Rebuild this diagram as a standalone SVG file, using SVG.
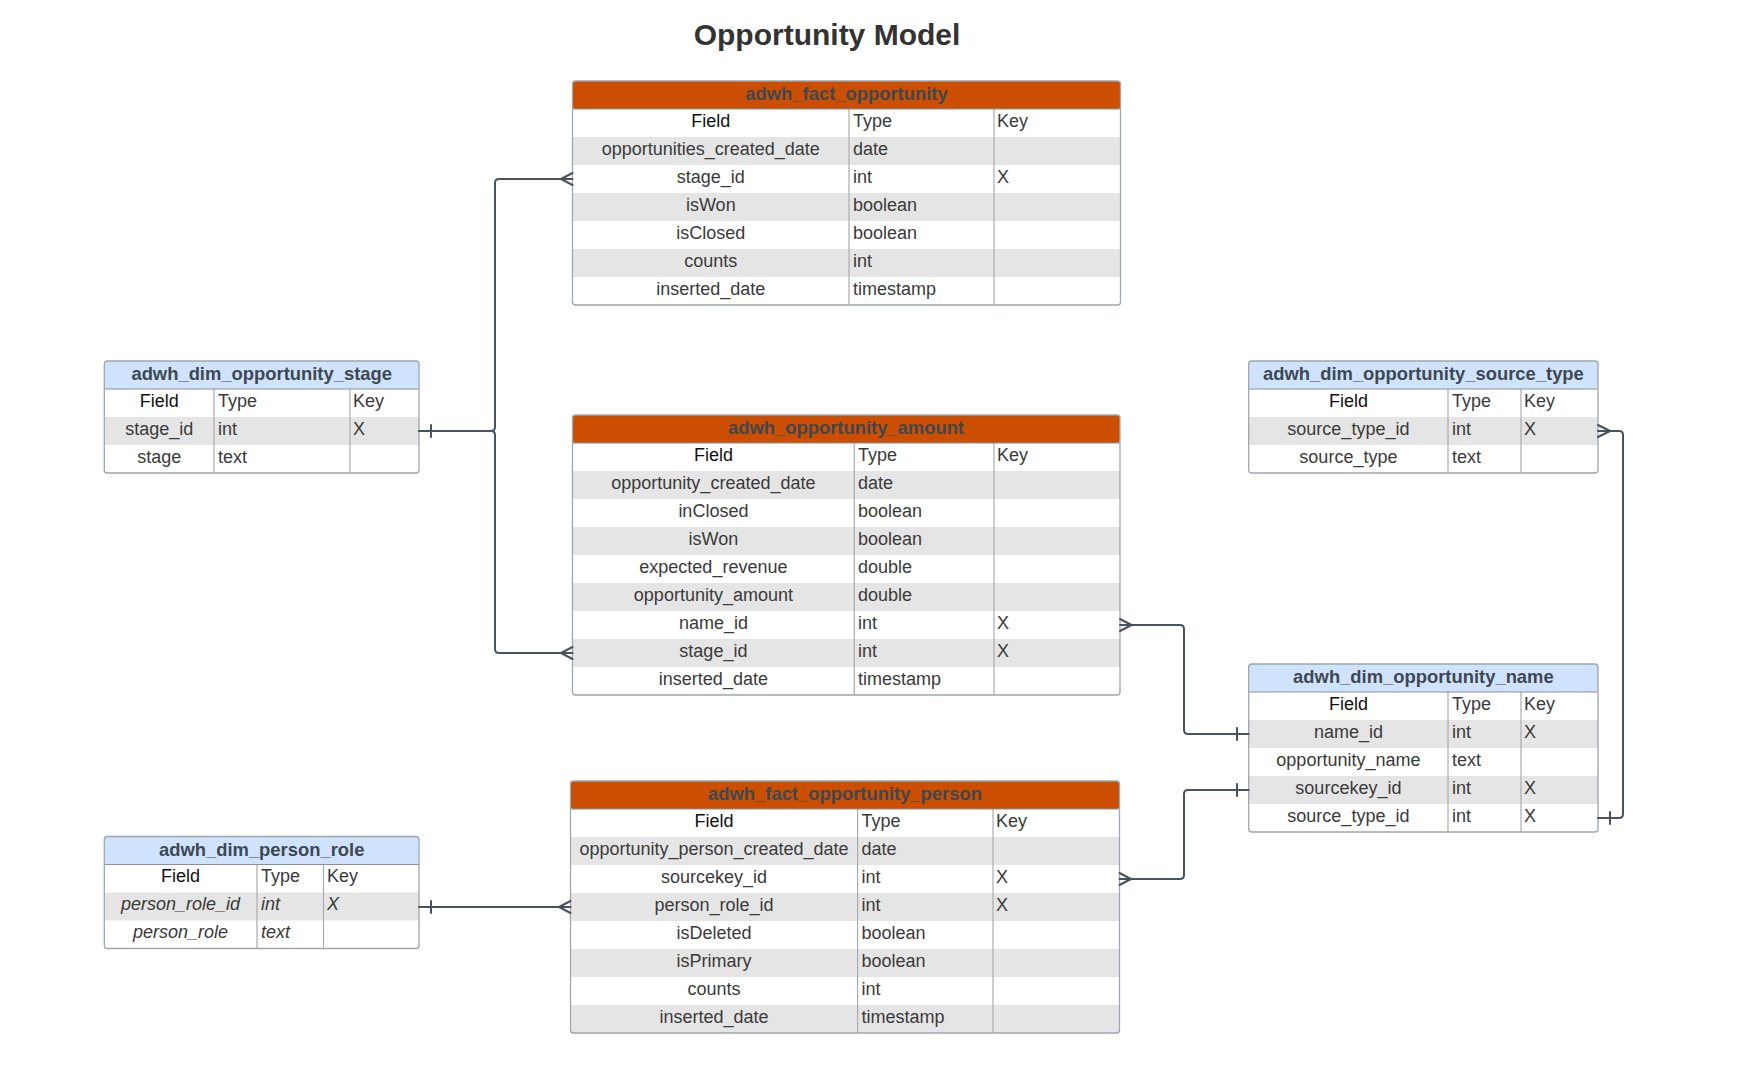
<svg xmlns="http://www.w3.org/2000/svg" width="1737" height="1068" viewBox="0 0 1737 1068">
<style>
.bg{fill:#ffffff}
.ho{fill:#CC4E00}
.hb{fill:#CFE3FF}
.alt{fill:#E5E5E5}
.frame{fill:none;stroke:#A0A6AD;stroke-width:1.3}
.dv{stroke:#A8ACB0;stroke-width:1.2}
.hl{stroke:#8A9096;stroke-width:1}
.title{font-family:"Liberation Sans",Arial,sans-serif;font-weight:bold;font-size:30px;fill:#333333;text-anchor:middle}
.ht{font-family:"Liberation Sans",Arial,sans-serif;font-weight:bold;font-size:18.4px;fill:#3E4852;text-anchor:middle}
.fh{font-family:"Liberation Sans",Arial,sans-serif;font-size:18px;fill:#111111}
.t{font-family:"Liberation Sans",Arial,sans-serif;font-size:18px;fill:#3A3A3A}
.c{text-anchor:middle}
.it{font-style:italic}
.conn{fill:none;stroke:#4A525E;stroke-width:2;stroke-linejoin:round;stroke-linecap:round}
</style>
<rect class="bg" x="0" y="0" width="1737" height="1068"/>
<text class="title" x="827" y="44.7">Opportunity Model</text>

<g id="adwh_fact_opportunity">
<rect class="bg" x="572.5" y="81" width="548" height="224" rx="3"/>
<rect class="ho" x="572.5" y="81" width="548" height="28" rx="3"/>
<rect class="alt" x="572.5" y="137" width="548" height="28"/>
<rect class="alt" x="572.5" y="193" width="548" height="28"/>
<rect class="alt" x="572.5" y="249" width="548" height="28"/>
<line class="dv" x1="849" y1="109" x2="849" y2="305"/>
<line class="dv" x1="994" y1="109" x2="994" y2="305"/>
<line class="hl" x1="572.5" y1="109" x2="1120.5" y2="109"/>
<rect class="frame" x="572.5" y="81" width="548" height="224" rx="3"/>
<text class="ht" x="846.5" y="99.5">adwh_fact_opportunity</text>
<text class="fh c" x="710.8" y="126.5">Field</text><text class="t" x="853" y="126.5">Type</text><text class="t" x="997" y="126.5">Key</text>
<text class="t c" x="710.8" y="154.5">opportunities_created_date</text><text class="t" x="853" y="154.5">date</text>
<text class="t c" x="710.8" y="182.5">stage_id</text><text class="t" x="853" y="182.5">int</text><text class="t" x="997" y="182.5">X</text>
<text class="t c" x="710.8" y="210.5">isWon</text><text class="t" x="853" y="210.5">boolean</text>
<text class="t c" x="710.8" y="238.5">isClosed</text><text class="t" x="853" y="238.5">boolean</text>
<text class="t c" x="710.8" y="266.5">counts</text><text class="t" x="853" y="266.5">int</text>
<text class="t c" x="710.8" y="294.5">inserted_date</text><text class="t" x="853" y="294.5">timestamp</text>
</g>

<g id="adwh_opportunity_amount">
<rect class="bg" x="572.5" y="415" width="547.5" height="280" rx="3"/>
<rect class="ho" x="572.5" y="415" width="547.5" height="28" rx="3"/>
<rect class="alt" x="572.5" y="471" width="547.5" height="28"/>
<rect class="alt" x="572.5" y="527" width="547.5" height="28"/>
<rect class="alt" x="572.5" y="583" width="547.5" height="28"/>
<rect class="alt" x="572.5" y="639" width="547.5" height="28"/>
<line class="dv" x1="854.3" y1="443" x2="854.3" y2="695"/>
<line class="dv" x1="994" y1="443" x2="994" y2="695"/>
<line class="hl" x1="572.5" y1="443" x2="1120" y2="443"/>
<rect class="frame" x="572.5" y="415" width="547.5" height="280" rx="3"/>
<text class="ht" x="846" y="433.5">adwh_opportunity_amount</text>
<text class="fh c" x="713.4" y="460.5">Field</text><text class="t" x="858" y="460.5">Type</text><text class="t" x="997" y="460.5">Key</text>
<text class="t c" x="713.4" y="488.5">opportunity_created_date</text><text class="t" x="858" y="488.5">date</text>
<text class="t c" x="713.4" y="516.5">inClosed</text><text class="t" x="858" y="516.5">boolean</text>
<text class="t c" x="713.4" y="544.5">isWon</text><text class="t" x="858" y="544.5">boolean</text>
<text class="t c" x="713.4" y="572.5">expected_revenue</text><text class="t" x="858" y="572.5">double</text>
<text class="t c" x="713.4" y="600.5">opportunity_amount</text><text class="t" x="858" y="600.5">double</text>
<text class="t c" x="713.4" y="628.5">name_id</text><text class="t" x="858" y="628.5">int</text><text class="t" x="997" y="628.5">X</text>
<text class="t c" x="713.4" y="656.5">stage_id</text><text class="t" x="858" y="656.5">int</text><text class="t" x="997" y="656.5">X</text>
<text class="t c" x="713.4" y="684.5">inserted_date</text><text class="t" x="858" y="684.5">timestamp</text>
</g>

<g id="adwh_fact_opportunity_person">
<rect class="bg" x="570.5" y="781" width="549" height="252" rx="3"/>
<rect class="ho" x="570.5" y="781" width="549" height="28" rx="3"/>
<rect class="alt" x="570.5" y="837" width="549" height="28"/>
<rect class="alt" x="570.5" y="893" width="549" height="28"/>
<rect class="alt" x="570.5" y="949" width="549" height="28"/>
<rect class="alt" x="570.5" y="1005" width="549" height="28"/>
<line class="dv" x1="857.6" y1="809" x2="857.6" y2="1033"/>
<line class="dv" x1="993" y1="809" x2="993" y2="1033"/>
<line class="hl" x1="570.5" y1="809" x2="1119.5" y2="809"/>
<rect class="frame" x="570.5" y="781" width="549" height="252" rx="3"/>
<text class="ht" x="845" y="799.5">adwh_fact_opportunity_person</text>
<text class="fh c" x="714" y="826.5">Field</text><text class="t" x="861.5" y="826.5">Type</text><text class="t" x="996" y="826.5">Key</text>
<text class="t c" x="714" y="854.5">opportunity_person_created_date</text><text class="t" x="861.5" y="854.5">date</text>
<text class="t c" x="714" y="882.5">sourcekey_id</text><text class="t" x="861.5" y="882.5">int</text><text class="t" x="996" y="882.5">X</text>
<text class="t c" x="714" y="910.5">person_role_id</text><text class="t" x="861.5" y="910.5">int</text><text class="t" x="996" y="910.5">X</text>
<text class="t c" x="714" y="938.5">isDeleted</text><text class="t" x="861.5" y="938.5">boolean</text>
<text class="t c" x="714" y="966.5">isPrimary</text><text class="t" x="861.5" y="966.5">boolean</text>
<text class="t c" x="714" y="994.5">counts</text><text class="t" x="861.5" y="994.5">int</text>
<text class="t c" x="714" y="1022.5">inserted_date</text><text class="t" x="861.5" y="1022.5">timestamp</text>
</g>

<g id="adwh_dim_opportunity_stage">
<rect class="bg" x="104.3" y="361" width="314.7" height="112" rx="3"/>
<rect class="hb" x="104.3" y="361" width="314.7" height="28" rx="3"/>
<rect class="alt" x="104.3" y="417" width="314.7" height="28"/>
<line class="dv" x1="214" y1="389" x2="214" y2="473"/>
<line class="dv" x1="350" y1="389" x2="350" y2="473"/>
<line class="hl" x1="104.3" y1="389" x2="419" y2="389"/>
<rect class="frame" x="104.3" y="361" width="314.7" height="112" rx="3"/>
<text class="ht" x="261.7" y="379.5">adwh_dim_opportunity_stage</text>
<text class="fh c" x="159.2" y="406.5">Field</text><text class="t" x="218" y="406.5">Type</text><text class="t" x="353" y="406.5">Key</text>
<text class="t c" x="159.2" y="434.5">stage_id</text><text class="t" x="218" y="434.5">int</text><text class="t" x="353" y="434.5">X</text>
<text class="t c" x="159.2" y="462.5">stage</text><text class="t" x="218" y="462.5">text</text>
</g>

<g id="adwh_dim_person_role">
<rect class="bg" x="104.3" y="836.5" width="314.7" height="112" rx="3"/>
<rect class="hb" x="104.3" y="836.5" width="314.7" height="28" rx="3"/>
<rect class="alt" x="104.3" y="892.5" width="314.7" height="28"/>
<line class="dv" x1="257" y1="864.5" x2="257" y2="948.5"/>
<line class="dv" x1="323.5" y1="864.5" x2="323.5" y2="948.5"/>
<line class="hl" x1="104.3" y1="864.5" x2="419" y2="864.5"/>
<rect class="frame" x="104.3" y="836.5" width="314.7" height="112" rx="3"/>
<text class="ht" x="261.7" y="856">adwh_dim_person_role</text>
<text class="fh c" x="180.6" y="882">Field</text><text class="t" x="261" y="882">Type</text><text class="t" x="327" y="882">Key</text>
<text class="t c it" x="180.6" y="910">person_role_id</text><text class="t it" x="261" y="910">int</text><text class="t it" x="327" y="910">X</text>
<text class="t c it" x="180.6" y="938">person_role</text><text class="t it" x="261" y="938">text</text>
</g>

<g id="adwh_dim_opportunity_source_type">
<rect class="bg" x="1248.7" y="361" width="349.3" height="112" rx="3"/>
<rect class="hb" x="1248.7" y="361" width="349.3" height="28" rx="3"/>
<rect class="alt" x="1248.7" y="417" width="349.3" height="28"/>
<line class="dv" x1="1448" y1="389" x2="1448" y2="473"/>
<line class="dv" x1="1521" y1="389" x2="1521" y2="473"/>
<line class="hl" x1="1248.7" y1="389" x2="1598" y2="389"/>
<rect class="frame" x="1248.7" y="361" width="349.3" height="112" rx="3"/>
<text class="ht" x="1423.4" y="379.5">adwh_dim_opportunity_source_type</text>
<text class="fh c" x="1348.4" y="406.5">Field</text><text class="t" x="1452" y="406.5">Type</text><text class="t" x="1524" y="406.5">Key</text>
<text class="t c" x="1348.4" y="434.5">source_type_id</text><text class="t" x="1452" y="434.5">int</text><text class="t" x="1524" y="434.5">X</text>
<text class="t c" x="1348.4" y="462.5">source_type</text><text class="t" x="1452" y="462.5">text</text>
</g>

<g id="adwh_dim_opportunity_name">
<rect class="bg" x="1248.7" y="664" width="349.3" height="168" rx="3"/>
<rect class="hb" x="1248.7" y="664" width="349.3" height="28" rx="3"/>
<rect class="alt" x="1248.7" y="720" width="349.3" height="28"/>
<rect class="alt" x="1248.7" y="776" width="349.3" height="28"/>
<line class="dv" x1="1448" y1="692" x2="1448" y2="832"/>
<line class="dv" x1="1521" y1="692" x2="1521" y2="832"/>
<line class="hl" x1="1248.7" y1="692" x2="1598" y2="692"/>
<rect class="frame" x="1248.7" y="664" width="349.3" height="168" rx="3"/>
<text class="ht" x="1423.4" y="682.5">adwh_dim_opportunity_name</text>
<text class="fh c" x="1348.4" y="709.5">Field</text><text class="t" x="1452" y="709.5">Type</text><text class="t" x="1524" y="709.5">Key</text>
<text class="t c" x="1348.4" y="737.5">name_id</text><text class="t" x="1452" y="737.5">int</text><text class="t" x="1524" y="737.5">X</text>
<text class="t c" x="1348.4" y="765.5">opportunity_name</text><text class="t" x="1452" y="765.5">text</text>
<text class="t c" x="1348.4" y="793.5">sourcekey_id</text><text class="t" x="1452" y="793.5">int</text><text class="t" x="1524" y="793.5">X</text>
<text class="t c" x="1348.4" y="821.5">source_type_id</text><text class="t" x="1452" y="821.5">int</text><text class="t" x="1524" y="821.5">X</text>
</g>

<g id="connectors">
<path class="conn" d="M419 431 H491 Q495 431 495 427 V183 Q495 179 499 179 H572.5"/>
<path class="conn" d="M419 431 H491 Q495 431 495 435 V649 Q495 653 499 653 H572.5"/>
<path class="conn" d="M431 425 V437"/>
<path class="conn" d="M561 179 L572.5 173 M561 179 L572.5 185"/>
<path class="conn" d="M561 653 L572.5 647 M561 653 L572.5 659"/>

<path class="conn" d="M1120 625 H1180 Q1184 625 1184 629 V730 Q1184 734 1188 734 H1248.7"/>
<path class="conn" d="M1131.5 625 L1120 619 M1131.5 625 L1120 631"/>
<path class="conn" d="M1237 728 V740"/>

<path class="conn" d="M1119.5 879 H1180 Q1184 879 1184 875 V794 Q1184 790 1188 790 H1248.7"/>
<path class="conn" d="M1131 879 L1119.5 873 M1131 879 L1119.5 885"/>
<path class="conn" d="M1237 784 V796"/>

<path class="conn" d="M1598 431 H1619 Q1623 431 1623 435 V814 Q1623 818 1619 818 H1598"/>
<path class="conn" d="M1610 431 L1598 425 M1610 431 L1598 437"/>
<path class="conn" d="M1610 812 V824"/>

<path class="conn" d="M419 907 H570.5"/>
<path class="conn" d="M431 901 V913"/>
<path class="conn" d="M559 907 L570.5 901 M559 907 L570.5 913"/>
</g>
</svg>
